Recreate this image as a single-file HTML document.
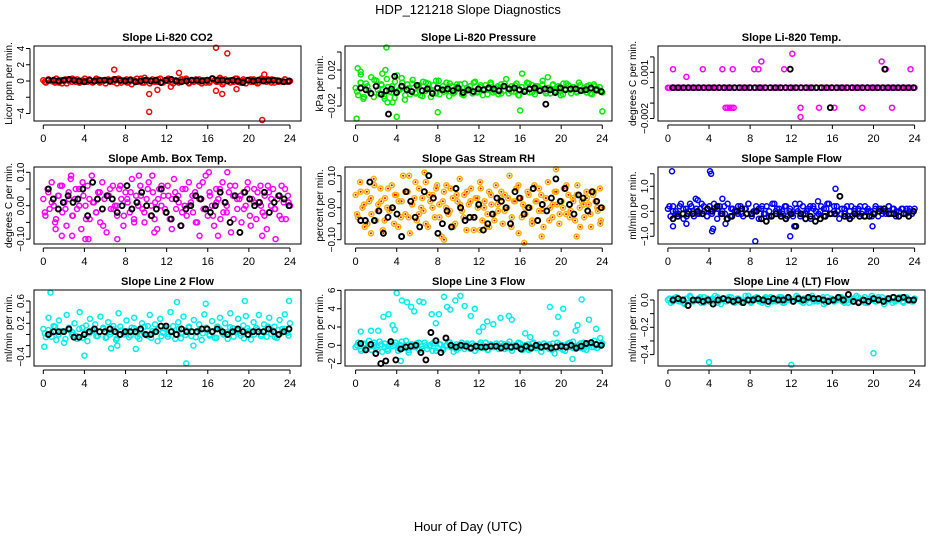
<!DOCTYPE html>
<html><head><meta charset="utf-8"><style>
html,body{margin:0;padding:0;background:#fff}
svg{display:block}
text{font-family:"Liberation Sans",Arial,sans-serif}
</style></head><body>
<svg id="chart" width="936" height="540" viewBox="0 0 936 540" xmlns="http://www.w3.org/2000/svg">
<text x="468" y="14" text-anchor="middle" font-size="13">HDP_121218  Slope Diagnostics</text>
<text x="468" y="531" text-anchor="middle" font-size="13">Hour of Day (UTC)</text>
</svg>
<script>
const xTicks=[0,4,8,12,16,20,24];
const co2Vals=[1,-2,2,0,-1,3,-2,1,0,-3,2,-1,1,2,-2,0,3,-1,1,-2,0,2,-1,1,-3,2,0,-1,1,3,-2,0,2,-1,-4,1,3,0,-2,4,1,-3,2,0,-1,3,-2,1,0,2,-3,1,-1,2,0,3,-2,1,-1,0,2,-3,1,0,-2,3,1,-1,4,-4,2,0,-2,1,3,-1,0,2,-3,1,-1,2,0,-2,3,1,-1,0,2,-2,1,0,-1,2,-1,0];
const co2ValsB=[-1,2,0,-2,1,-3,2,0,3,-1,-2,1,0,2,-1,3,-2,0,1,-1,2,-3,0,1,-2,2,0,-1,3,-2,1,0,-1,2,-2,1,3,-1,0,-2,2,1,-3,0,2,-1,1,-2,0,3,-1,2,-2,0,1,-1,3,-2,0,1,2,-1,-3,1,0,2,-2,1,-1,0,2,-1];
const co2Black=[1,1,0,1,2,1,0,-1,1,0,1,1,0,2,1,0,1,-1,0,1,0,1,-2,1,2,0,-1,0,1,1,0,1,3,1,1,0,1,0,-2,1,0,1,0,1,1,0,-1,0];
const co2Out=[[6.9,1.4],[10.3,-1.6],[10.3,-3.8],[11.1,-1.1],[12.4,-0.7],[13.2,1.0],[16.8,4.1],[17.9,3.4],[16.8,-1.2],[17.4,-1.6],[18.8,-1.0],[21.3,-4.8],[21.5,0.8]];
const presVals=[0,-8,15,-12,5,-3,12,-10,8,-6,3,-9,10,-4,2,-11,14,-2,6,-13,4,-7,9,-5,1,-8,7,-3,5,-10,3,-6,8,-2,-4,6,-9,2,-5,4,-1,-7,5,-3,2,-6,7,-4,1,-8,3,-2,6,-5,0,-7,4,-3,10,-6,2,-4,5,-8,1,-3,6,-5,3,-7,2,-2,8,-4,0,-6,4,-3,2,-8,5,-1,3,-6,1,-4,6,-2,0,-5,3,-7,2,-3,1,-5];
const presValsB=[-4,6,-10,2,-6,9,-2,4,-12,1,-5,7,-3,11,-8,0,5,-6,3,-9,6,-1,-4,8,-7,2,-3,5,-6,1,4,-8,0,-2,6,-5,3,-1,-7,4,-3,2,-6,5,0,-4,3,-8,1,-2,5,-5,2,-3,4,-6,0,3,-4,1,-7,5,-2,0,-5,3,-3,2,-6,4,-1,-3];
const presBlack=[0,-2,-6,2,-7,-3,-1,-5,2,-2,-4,3,-3,-1,-6,0,-2,-1,-3,0,-5,-2,-4,-1,-2,0,-1,-3,2,-1,0,-2,-4,-1,0,-3,-1,-2,-5,0,-2,-1,-1,-3,-2,0,-2,-4];
const presOut=[[3,0.045],[0.2,0.022],[0.1,-0.034],[4,-0.032],[8,-0.027],[16,-0.025],[24,-0.026],[16.2,0.016],[18.7,0.012],[2.9,0.02],[0.5,0.018],[2.6,0.016],[3.1,-0.016],[3.6,-0.016]];
const presBlackOut=[[3.2,-0.029],[3.8,0.013],[18.5,-0.018]];
const tempVals=[0,0,0,0,0,0,0,0,0,0,0,0,0,0,0,0,0,0,0,0,0,0,0,0,0,0,0,0,0,0,0,0,0,0,0,0,0,0,0,0,0,0,0,0,0,0,0,0,0,0,0,0,0,0,0,0,0,0,0,0,0,0,0,0];
const tempValsB=[0,0,0,0,0,0,0,0,0,0,0,0,0,0,0,0,0,0,0,0,0,0,0,0,0,0,0,0,0,0,0,0,0,0,0,0,0,0,0,0,0,0,0,0,0,0,0,0,0,0,0,0,0,0,0,0,0,0,0,0,0,0,0,0];
const tempBlack=[0,0,0,0,0,0,0,0,0,0,0,0,0,0,0,0,0,0,0,0,0,0,0,0,0,0,0,0,0,0,0,0,0,0,0,0,0,0,0,0,0,0,0,0,0,0,0,0];
const tempOut=[[0.5,0.0012],[3.4,0.0012],[5.3,0.0012],[6.3,0.0012],[8.4,0.0012],[8.8,0.0012],[11.3,0.0012],[9.1,0.0017],[20.8,0.0017],[12.1,0.0022],[1.8,0.0007],[5.6,-0.0013],[5.8,-0.0013],[6.0,-0.0013],[6.2,-0.0013],[6.4,-0.0013],[12.9,-0.0013],[14.7,-0.0013],[16.2,-0.0013],[18.9,-0.0013],[21.8,-0.0013],[12.9,-0.0019],[21.2,0.0012],[23.6,0.0012]];
const tempBlackOut=[[11.9,0.0012],[21.1,0.0012],[15.8,-0.0013]];
const ambVals=[2,-3,5,-1,7,0,-4,3,6,-2,1,-6,4,8,-3,2,-1,5,-7,3,0,6,-4,9,1,-2,4,-5,7,2,-8,3,-1,6,0,-3,5,2,-6,4,1,-2,8,-4,3,0,6,-1,-5,2,7,-3,4,1,-7,5,0,3,-2,6,-4,2,8,-1,3,-6,5,0,-3,7,1,-2,4,-5,6,2,-1,9,-3,3,0,-6,5,2,-4,7,1,-2,4,-8,3,6,-1,2,-5,4,0,7,-3,2,5,-4,1,6,-2,3,-7,4,0,5,-1,2,-3,6,1,-4,3,0];
const ambValsB=[-2,4,1,-5,3,6,-1,2,-3,5,0,7,-4,2,1,-2,4,-6,3,5,-1,0,6,-3,2,4,-5,1,3,-2,5,0,-4,2,6,-1,3,-7,4,1,-2,5,0,3,-5,2,7,-1,4,-3,1,5,-2,0,6,-4,2,3,-1,5,-6,1,4,0,-3,6,2,-1,3,-4,5,1];
const ambBlack=[5,2,-1,1,3,1,2,5,-3,7,2,-1,3,2,-2,0,6,-1,1,4,0,-3,-1,5,-2,-4,2,-6,-1,0,3,2,-1,-2,0,4,1,-5,3,-8,4,2,0,1,4,-2,1,3,2,0];
const ambOut=[[1.2,-7],[1.8,-9],[2.8,-9],[4.1,-10],[4.4,-10],[7.2,-10],[10.8,-8],[15.2,-9],[17,-9],[16.1,10],[17.9,10],[22.6,-10],[21.3,-9],[2.7,9],[9.3,9],[10.6,9]];
const rhVals=[4,-3,8,0,-6,5,2,-2,9,-4,1,6,-7,3,0,-1,7,-5,4,2,-3,10,-2,5,-8,1,3,-4,6,0,-1,8,-6,2,4,-3,7,1,-9,5,0,-2,6,3,-5,2,9,-1,4,-7,1,6,-3,3,0,8,-4,2,-6,5,1,-2,7,-1,3,-5,4,0,10,-3,2,6,-8,3,1,-2,5,0,-4,7,2,-1,4,-6,3,8,0,-3,5,1,-5,2,6,-2,4,-1,3,-4,7,0,2,-3,5,1,-6,4,2,-1,6,0];
const rhValsB=[-2,5,1,-5,3,7,-1,2,-4,6,0,4,-6,2,5,-3,1,8,-2,3,-5,4,0,6,-3,2,7,-1,-6,4,1,-3,5,2,-7,3,6,0,-2,4,-4,1,5,-1,3,-6,2,7,-3,0,4,-5,2,6,-1,3,-4,1,5,-2,0,7,-3,2,4,-6,1,3,-2,5,0,-4];
const rhBlack=[-4,-4,8,-4,-1,-8,-3,0,-2,-9,5,2,-3,-6,5,10,3,-8,-5,-1,-6,6,0,-4,-3,-3,1,-7,-5,-2,3,2,0,-5,5,3,-2,0,6,-4,1,-1,3,9,2,6,1,-2,4,3,-1,5,2,0];
const rhOut=[[1.5,-8],[2.7,-8],[5.2,10],[6.7,11],[8.6,-10],[12.1,-7],[13,-6],[16.4,-11],[18.1,-9],[19.5,12],[21.5,-9],[23.8,-5]];
const flowVals=[1,-2,2,0,-1,3,-3,1,0,2,-2,1,-1,3,0,-2,2,-1,1,-3,2,0,-1,3,-2,1,0,-1,2,-2,1,3,-1,0,2,-3,1,-1,2,0,-2,3,1,-1,0,2,-2,1,-1,3,0,-2,2,-1,1,-3,2,0,-1,2,-2,1,3,-1,0,2,-3,1,-1,2,0,-2,1,-1,2,0,-2,1,0,-1,2,-2,1,0,-1,2,-1,1,0,-2,1,-1,1,0,-1,1];
const flowValsB=[2,0,-1,2,1,-2,3,0,-1,1,2,-2,0,3,1,-1,2,-3,1,0,2,-1,1,3,-2,0,1,2,-1,-2,3,0,1,-1,2,0,-2,1,3,-1,0,2,1,-2,0,1,3,-1,2,0,-1,1,-2,2,0,1,-1,2,0,-2,1,1,-1,0,2,1,-2,0,1,-1,1,0];
const flowBlack=[-3,-2,-1,-1,-1,0,-1,1,0,2,-1,-3,-2,0,1,-1,-1,0,-3,-4,-2,-1,-2,-3,-1,-6,-1,-3,-2,-4,-3,-2,-1,-1,6,-2,-3,-1,-2,-2,-2,-1,0,1,-1,-1,-2,-1,-2,0];
const flowOut=[[0.4,1.6],[4.1,1.6],[4.2,1.5],[16.3,0.9],[8.5,-1.2],[11.9,-1.0],[4.3,-0.8],[4.4,-0.7],[0.5,-0.6],[19.9,-0.6],[2.7,0.5],[2.9,0.45],[5.3,0.5],[1.8,-0.5],[5.6,-0.5],[14.6,0.4],[12.3,-0.6]];
const l2Vals=[10,-5,30,2,15,-10,25,5,-15,35,8,0,20,-8,40,12,3,-12,28,6,18,-3,32,10,-6,22,4,15,-10,38,7,0,25,-5,12,30,2,-8,20,14,-2,35,6,18,-12,28,3,10,-4,40,15,0,22,-7,32,8,12,-3,26,5,18,-10,36,9,0,24,-6,14,30,2,20,-8,38,11,4,28,-2,16,33,6,-9,22,12,35,0,18,-4,30,8,14,-6,26,10,36,3,20];
const l2ValsB=[2,8,-4,14,0,6,-8,12,4,-2,10,-6,16,2,8,-3,5,12,-5,0,9,-7,14,3,6,-2,11,-4,7,1,15,-6,4,9,-3,12,0,6,-8,10,3,-1,14,5,-5,8,2,12,-2,6,-6,10,0,4,13,-4,7,2,-7,11,5,0,9,-3,6,14,1,-5,8,3,10,-2];
const l2Black=[0,5,5,5,10,-5,-5,0,5,10,5,5,10,5,0,5,5,5,10,0,0,5,15,15,5,0,10,5,5,5,10,10,5,10,5,0,5,10,5,0,5,5,5,10,5,0,5,10];
const l2Out=[[0.7,0.75],[0.1,-0.22],[4,-0.38],[6.6,-0.25],[7.2,-0.2],[9,-0.26],[13.9,-0.52],[14.6,-0.2],[19.6,0.6],[23.9,0.6],[15.8,0.55],[13,0.58]];
const l3Vals=[-2,3,-6,1,-3,5,-5,0,-2,4,-7,2,-4,1,-1,3,-6,0,-3,5,-8,1,-2,2,-5,-1,3,-4,0,-6,2,-3,1,-5,-1,4,-2,-7,1,-3,3,-4,0,-2,2,-6,-1,1,-3,3,-5,0,-2,2,-4,-1,1,-3,4,-6,0,-2,2,-5,-1,1,-4,3,-3,0,-7,2,-2,1,-5,-9,3,-3,0,-6,2,-2,4,-4,0,-3,3,-5,1,-2,5,-3,0,2];
const l3ValsB=[0,-4,2,-3,-1,3,-5,1,-2,-6,2,0,-3,4,-1,-5,1,-2,3,-4,0,-1,2,-6,1,-3,0,3,-2,-5,1,-1,2,-4,0,-3,3,-1,-5,1,-2,0,2,-4,1,-3,-1,3,-2,0,-5,2,-1,1,-3,0,-4,2,-2,1,-5,0,3,-3,-1,2,-4,0,1,-2,-3,1];
const l3Black=[2,-5,1,-9,-20,-17,4,-16,-4,-2,-1,0,-8,-16,14,5,-8,8,0,-2,0,-1,-3,-1,-2,-2,-1,-1,-3,-1,-2,-1,-4,-1,-3,0,-2,-1,-3,-2,-1,-2,0,-3,-1,2,3,1,0];
const l3Out=[[0.5,1.5],[1.5,1.6],[2.2,1.6],[2.7,3.1],[3.2,3.4],[3.6,2.2],[4,5.7],[4.5,4.9],[5,4.7],[5.4,4.2],[5.7,3.7],[6.2,4.8],[6.6,4.7],[7.4,3.4],[7.8,2.4],[8.1,3.4],[8.6,5.3],[8.9,4.2],[9.2,3.9],[9.7,4.9],[10.2,5.4],[10.6,4.3],[11.2,3.2],[3.8,1.7],[4.4,-1.7],[11.6,4.0],[12,1.5],[12.4,2.0],[12.8,2.6],[13.4,2.3],[14.1,3.0],[14.9,3.2],[15.2,2.8],[16.5,1.3],[17,0.9],[18.9,4.2],[19.7,3.1],[20.2,4.0],[21.4,1.6],[21.6,2.2],[22,5.0],[22.7,2.8],[23.4,1.8],[23.8,0.8],[19.5,1.3],[21.1,-1.5]];
const l4Vals=[0,-2,1,2,-1,0,-3,1,2,-1,0,1,-2,2,0,-1,1,3,-2,0,1,-1,2,0,-2,1,0,-1,3,0,-2,1,2,-1,0,1,-3,2,0,-1,1,2,-2,0,1,-1,0,2,-1,1,0,-2,3,0,-1,1,2,-2,0,1,-1,0,2,-1,1,-2,0,1,3,-1,0,2,-2,1,0,-1,2,0,-3,1,0,2,-1,0,1,-2,2,0,-1,1];
const l4ValsB=[1,-1,2,0,-2,1,3,-1,0,2,-2,1,0,-1,2,-3,1,0,2,-1,1,-2,0,3,-1,1,0,-2,2,1,-1,0,2,-2,1,0,-1,3,0,-2,1,2,-1,0,1,-3,2,0,-1,1,2,-2,0,1,-1,2,0,-2,1,3,-1,0,2,-1,1,-2,0,2,-1,1,0,-1];
const l4Black=[0,1,0,-4,0,0,-1,0,-3,0,1,0,-1,0,-2,0,0,1,0,-1,1,0,0,2,-1,1,0,2,1,1,0,-1,0,2,0,4,-1,-2,0,-1,1,0,-1,1,2,1,2,0,0];
const l4Out=[[4,-0.455],[12,-0.475],[20,-0.39]];

const NS='http://www.w3.org/2000/svg';
const svg=document.getElementById('chart');
function mk(tag,attrs,parent){const e=document.createElementNS(NS,tag);for(const k in attrs)e.setAttribute(k,attrs[k]);(parent||svg).appendChild(e);return e;}
const colX=[[34,301],[345,612],[658,925]];
const rowY=[[46,121],[167,244],[290,366]];
const panels=[
 {name:'co2',title:'Slope Li-820 CO2',yl:'Licor ppm per min.',c:0,r:0,vals:co2Vals,valsB:co2ValsB,blk:co2Black,sc:0.1,out:co2Out,bout:[],col:'#ff0000',v0:0,p0:81,v1:4,p1:48.5,ticks:[-4,-2,0,2,4],tl:['-4','','0','2','4']},
 {name:'pressure',title:'Slope Li-820 Pressure',yl:'kPa per min.',c:1,r:0,vals:presVals,valsB:presValsB,blk:presBlack,sc:0.001,out:presOut,bout:presBlackOut,col:'#00ee00',v0:0,p0:88,v1:0.02,p1:70,ticks:[-0.02,0,0.02,0.04],tl:['-0.02','','0.02','']},
 {name:'temp',title:'Slope Li-820 Temp.',yl:'degrees C per min.',c:2,r:0,vals:tempVals,valsB:tempValsB,blk:tempBlack,sc:1,out:tempOut,bout:tempBlackOut,col:'#ff00ff',v0:0,p0:87.7,v1:0.001,p1:72.3,ticks:[-0.002,-0.001,0,0.001,0.002],tl:['-0.002','','','0.001','']},
 {name:'amb-box-temp',title:'Slope Amb. Box Temp.',yl:'degrees C per min.',c:0,r:1,vals:ambVals,valsB:ambValsB,blk:ambBlack,sc:0.01,out:ambOut.map(p=>[p[0],p[1]*0.01]),bout:[],col:'#ff00ff',v0:0,p0:205.7,v1:0.1,p1:172.3,ticks:[-0.1,-0.05,0,0.05,0.1],tl:['-0.10','','0.00','','0.10']},
 {name:'gas-stream-rh',title:'Slope Gas Stream RH',yl:'percent per min.',c:1,r:1,vals:rhVals,valsB:rhValsB,blk:rhBlack,sc:0.01,out:rhOut.map(p=>[p[0],p[1]*0.01]),bout:[],col:'#ffb000',inner:'#ff0000',v0:0,p0:207.7,v1:0.1,p1:175.7,ticks:[-0.1,-0.05,0,0.05,0.1],tl:['-0.10','','0.00','','0.10']},
 {name:'sample-flow',title:'Slope Sample Flow',yl:'ml/min per min.',c:2,r:1,vals:flowVals,valsB:flowValsB,blk:flowBlack,sc:0.1,out:flowOut,bout:[],col:'#0000ff',v0:0,p0:211.3,v1:1,p1:186.3,ticks:[-1,-0.5,0,0.5,1,1.5],tl:['-1.0','','0.0','','1.0','']},
 {name:'line-2-flow',title:'Slope Line 2 Flow',yl:'ml/min per min.',c:0,r:2,vals:l2Vals,valsB:l2ValsB,blk:l2Black,sc:0.01,out:l2Out,bout:[],col:'#00eeee',v0:0.2,p0:323.3,v1:0.6,p1:301,ticks:[-0.4,-0.2,0,0.2,0.4,0.6],tl:['-0.4','','','0.2','','0.6']},
 {name:'line-3-flow',title:'Slope Line 3 Flow',yl:'ml/min per min.',c:1,r:2,vals:l3Vals,valsB:l3ValsB,blk:l3Black,sc:0.1,out:l3Out,bout:[],col:'#00eeee',v0:0,p0:345.3,v1:2,p1:327,ticks:[-2,0,2,4,6],tl:['-2','0','2','4','6']},
 {name:'line-4-flow',title:'Slope Line 4 (LT) Flow',yl:'ml/min per min.',c:2,r:2,vals:l4Vals,valsB:l4ValsB,blk:l4Black,sc:0.01,out:l4Out,bout:[],col:'#00eeee',v0:0,p0:300,v1:-0.2,p1:327.3,ticks:[-0.4,-0.3,-0.2,-0.1,0],tl:['-0.4','','-0.2','','0.0']}
];
panels.forEach(p=>{
 const [x1,x2]=colX[p.c],[y1,y2]=rowY[p.r];
 const off=p.c*312.3;
 const xs=h=>43.3+off+h*(246.7/24);
 const ys=v=>p.p0+(v-p.v0)*(p.p1-p.p0)/(p.v1-p.v0);
 const g=mk('g',{});
 
 
 const t=mk('text',{x:(x1+x2)/2,y:y1-5,'text-anchor':'middle','font-size':'11','font-weight':'bold'},g);
 t.textContent=p.title;
 
 
 const yl=mk('text',{x:0,y:0,transform:`translate(${x1-22},${(y1+y2)/2}) rotate(-90)`,'text-anchor':'middle','font-size':'10'},g);
 yl.textContent=p.yl;
 
 
 const pts=mk('g',{fill:'none','stroke-width':'1.5'},g);
 
 
 function dot(x,v,col,inner,sw){
  const c=mk('circle',{cx:xs(x).toFixed(1),cy:ys(v).toFixed(1),r:2.5,stroke:col},pts);
  
  
  if(sw)c.setAttribute('stroke-width',sw);
  if(inner){mk('circle',{cx:xs(x).toFixed(1),cy:ys(v).toFixed(1),r:1,fill:inner,stroke:'none'},pts);}
 }
 const n=p.vals.length;
 p.vals.forEach((v,i)=>dot(i*24/(n-1),v*p.sc,p.col,p.inner));
 const nb=p.valsB.length;
 p.valsB.forEach((v,i)=>dot(0.15+i*23.7/(nb-1),v*p.sc,p.col,p.inner));
 p.out.forEach(o=>dot(o[0],o[1],p.col,p.inner));
 const m=p.blk.length;
 p.blk.forEach((v,i)=>dot(0.5+i*23.4/(m-1),v*p.sc,'#000',null,'1.9'));
 p.bout.forEach(o=>dot(o[0],o[1],'#000',null,'1.9'));
 const box=mk('rect',{x:x1,y:y1,width:x2-x1,height:y2-y1,fill:'none',stroke:'#000','stroke-width':'1'},g);
 
 
 const xa=mk('g',{},g);
 
 
 mk('line',{x1:xs(0),x2:xs(24),y1:y2+4,y2:y2+4,stroke:'#000'},xa);
 xTicks.forEach(h=>{
  mk('line',{x1:xs(h),x2:xs(h),y1:y2+4,y2:y2+8,stroke:'#000'},xa);
  const tt=mk('text',{x:xs(h),y:y2+21,'text-anchor':'middle','font-size':'11'},xa);
  tt.textContent=h;
 });
 const ya=mk('g',{},g);
 
 
 const tv=p.ticks;
 mk('line',{x1:x1-4,x2:x1-4,y1:ys(tv[0]),y2:ys(tv[tv.length-1]),stroke:'#000'},ya);
 tv.forEach((v,i)=>{
  const yy=ys(v);
  mk('line',{x1:x1-8,x2:x1-4,y1:yy,y2:yy,stroke:'#000'},ya);
  if(p.tl[i]){const tt=mk('text',{x:0,y:0,transform:`translate(${x1-10},${yy}) rotate(-90)`,'text-anchor':'middle','font-size':'10'},ya);tt.textContent=p.tl[i].replace('-','\u2212');}
 });
});
</script>
</body></html>
